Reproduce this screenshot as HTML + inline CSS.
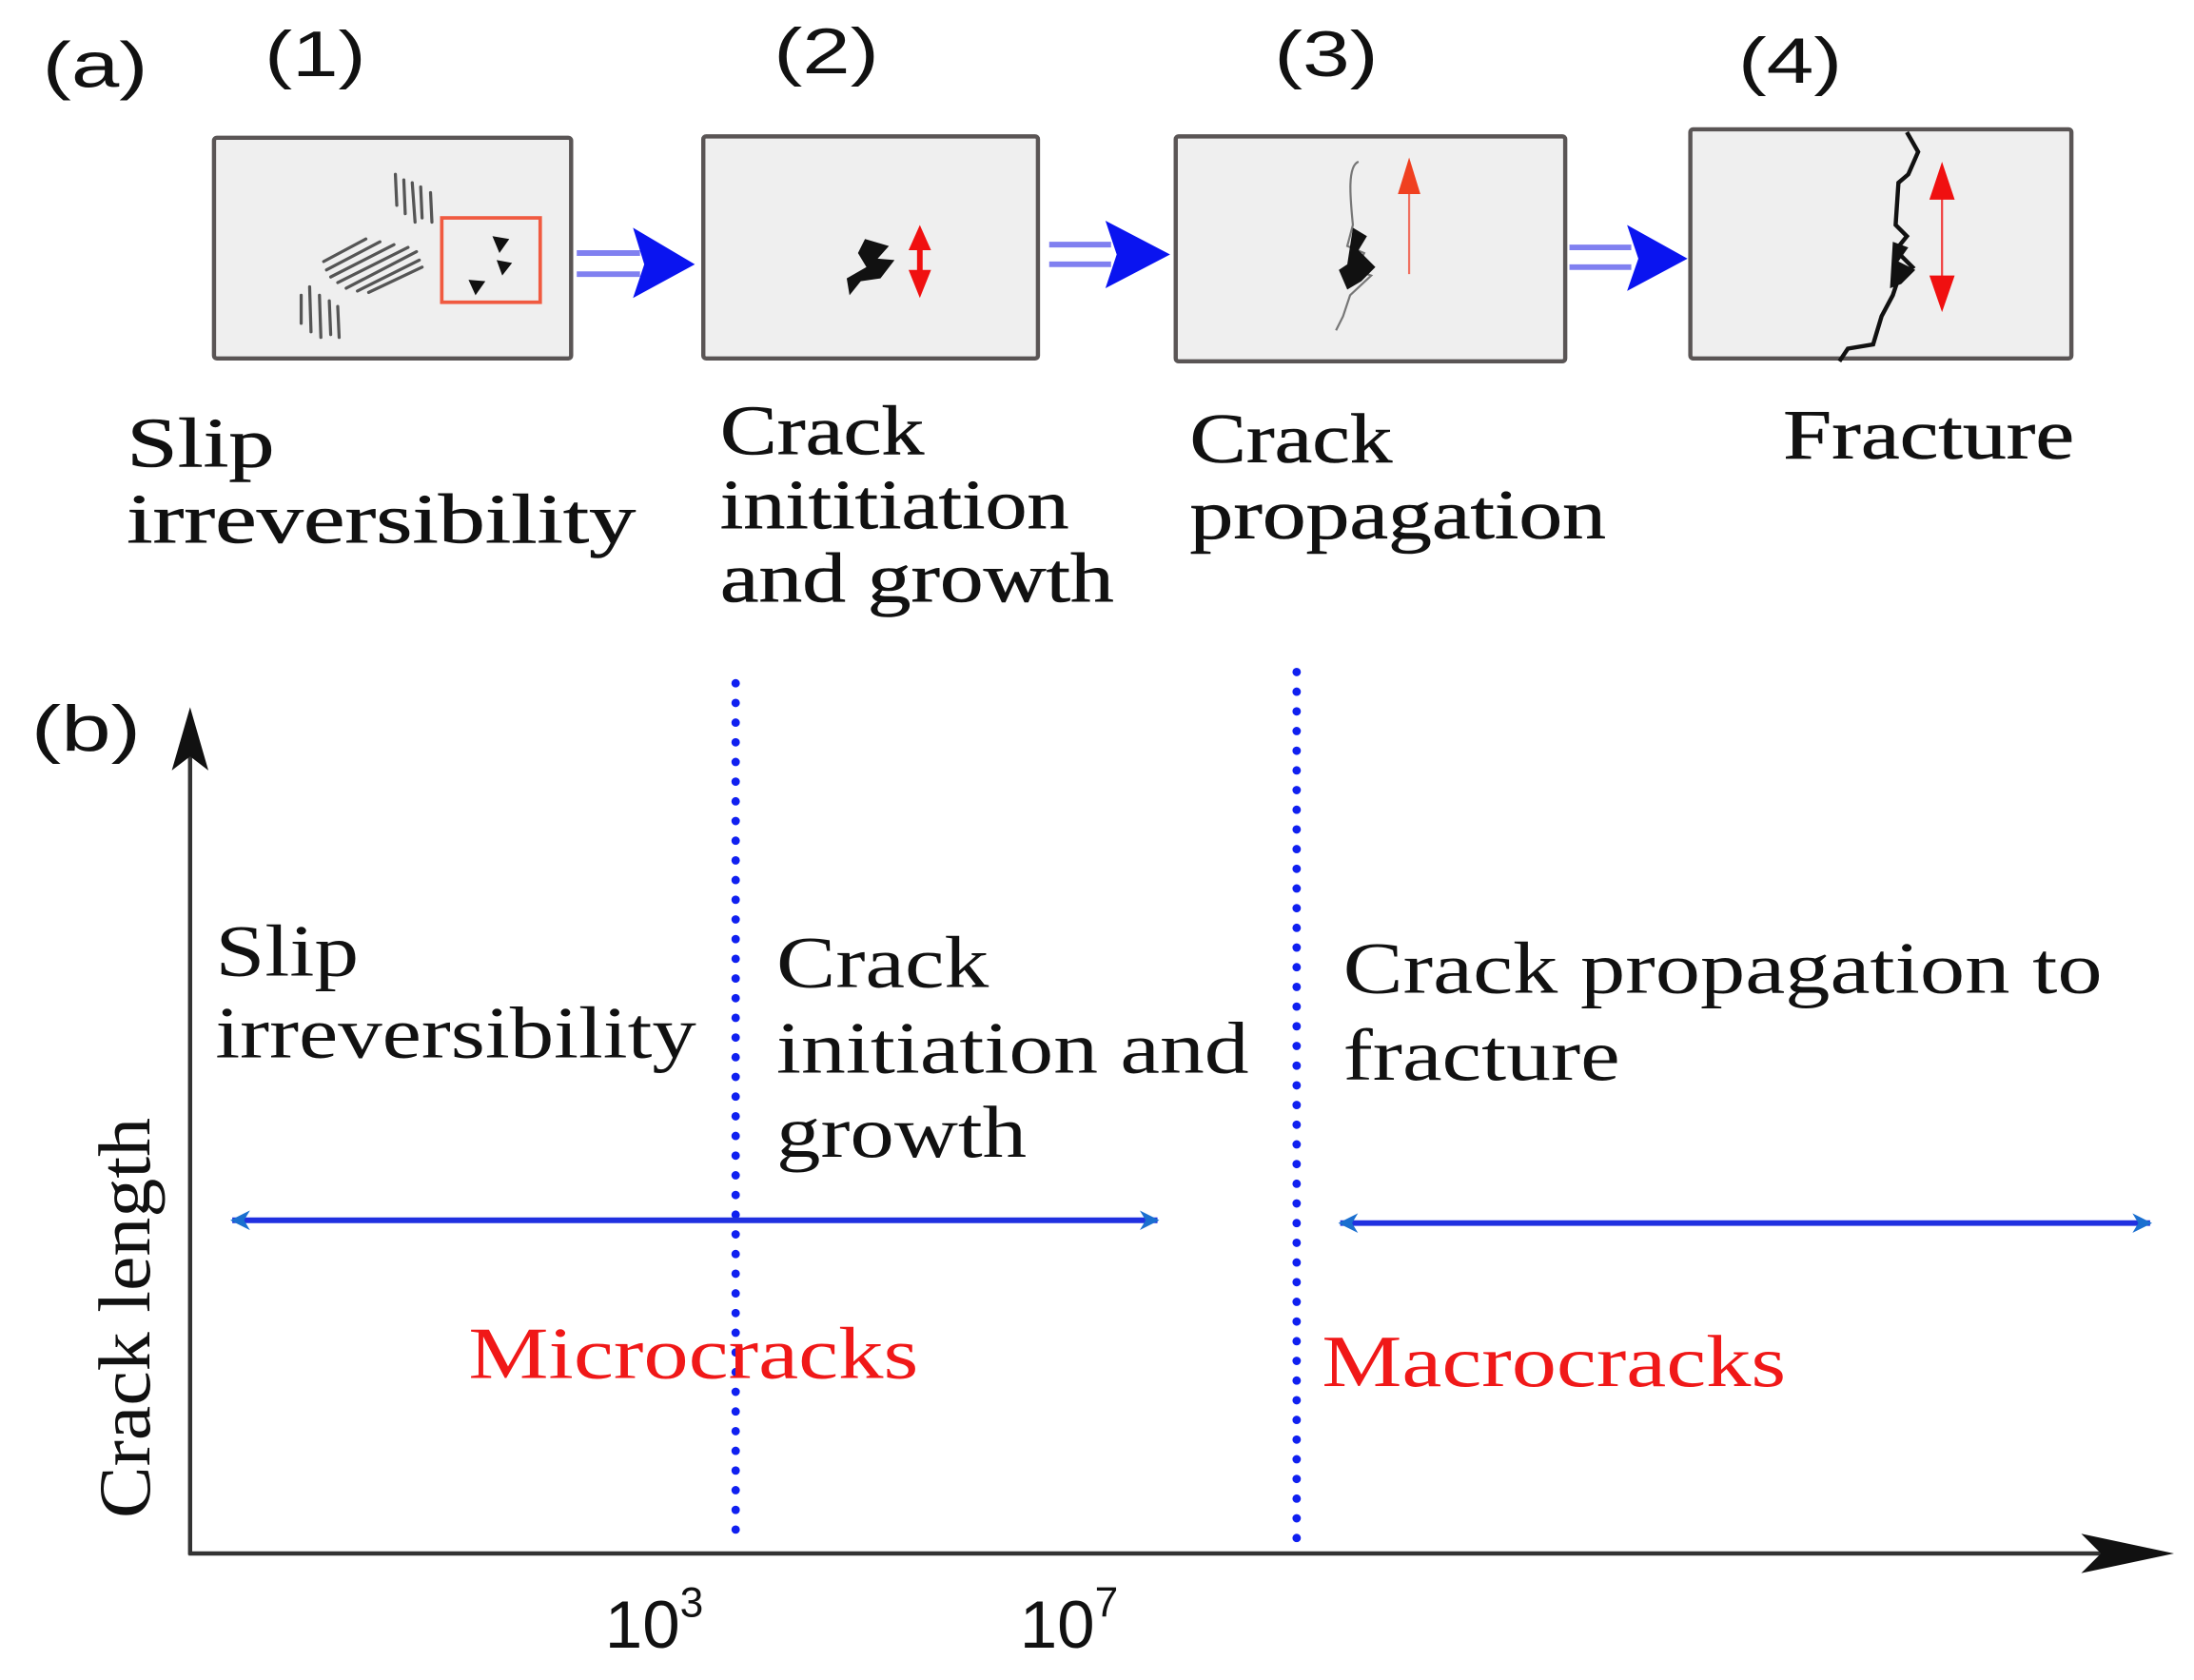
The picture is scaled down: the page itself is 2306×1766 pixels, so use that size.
<!DOCTYPE html>
<html><head><meta charset="utf-8"><style>html,body{margin:0;padding:0;background:#fff}svg{display:block}
.sans{font-family:"Liberation Sans",Arial,sans-serif}
.serif{font-family:"Liberation Serif","Times New Roman",serif}
</style></head>
<body>
<svg width="2306" height="1766" viewBox="0 0 1560 1195" xmlns="http://www.w3.org/2000/svg">
<defs>
<marker id="bh" viewBox="0 0 10 10" refX="9" refY="5" markerWidth="3.5" markerHeight="5" orient="auto-start-reverse"><path d="M0,0 L10,5 L0,10 L3,5 Z" fill="#1a6fd0"/></marker>
</defs>
<g class="sans" font-size="46" fill="#111">
<text x="30" y="62" textLength="75" lengthAdjust="spacingAndGlyphs">(a)</text>
<text x="188" y="54" textLength="72" lengthAdjust="spacingAndGlyphs">(1)</text>
<text x="550" y="52" textLength="75" lengthAdjust="spacingAndGlyphs">(2)</text>
<text x="906" y="54" textLength="74" lengthAdjust="spacingAndGlyphs">(3)</text>
<text x="1236" y="59" textLength="74" lengthAdjust="spacingAndGlyphs">(4)</text>
<text x="22" y="534" textLength="78" lengthAdjust="spacingAndGlyphs">(b)</text>
</g>
<g fill="#efefef" stroke="#5a5555" stroke-width="3">
<rect x="152" y="98" width="254" height="157" rx="2"/>
<rect x="500" y="97" width="238" height="158" rx="2"/>
<rect x="836" y="97" width="277" height="160" rx="2"/>
<rect x="1202" y="92" width="271" height="163" rx="2"/>
</g>
<g stroke="#555" stroke-width="2.2" stroke-linecap="round">
<line x1="281" y1="124" x2="282" y2="146"/><line x1="287" y1="128" x2="288" y2="152"/><line x1="293" y1="130" x2="295" y2="158"/><line x1="299" y1="133" x2="300" y2="155"/><line x1="306" y1="137" x2="307" y2="158"/>
<line x1="214" y1="210" x2="214" y2="230"/><line x1="220" y1="204" x2="221" y2="236"/><line x1="227" y1="210" x2="228" y2="240"/><line x1="234" y1="214" x2="235" y2="238"/><line x1="240" y1="218" x2="241" y2="240"/>
<line x1="230" y1="186" x2="260" y2="170"/><line x1="232" y1="192" x2="270" y2="172"/><line x1="235" y1="197" x2="280" y2="174"/><line x1="240" y1="201" x2="290" y2="176"/><line x1="246" y1="205" x2="296" y2="179"/><line x1="254" y1="207" x2="298" y2="185"/><line x1="262" y1="208" x2="300" y2="190"/>
</g>
<rect x="314" y="155" width="70" height="60" fill="none" stroke="#f05a40" stroke-width="2.5"/>
<g fill="#111"><path d="M350,168 L362,170 L355,180Z"/><path d="M353,185 L364,187 L357,196Z"/><path d="M333,199 L345,200 L338,210Z"/></g>
<g stroke="#8080f0" stroke-width="4">
<line x1="410" y1="180" x2="455" y2="180"/><line x1="410" y1="195" x2="455" y2="195"/>
<line x1="746" y1="174" x2="790" y2="174"/><line x1="746" y1="188" x2="790" y2="188"/>
<line x1="1116" y1="176" x2="1160" y2="176"/><line x1="1116" y1="190" x2="1160" y2="190"/>
</g>
<g fill="#0a14f0">
<path d="M450,162 L494,188 L450,212 L458,188Z"/>
<path d="M786,157 L832,181 L786,205 L794,181Z"/>
<path d="M1157,160 L1200,184 L1157,207 L1165,184Z"/>
</g>
<path d="M615,170 L632,175 L624,184 L636,185 L626,198 L612,200 L604,210 L602,198 L616,190 L610,180Z" fill="#111"/>
<g fill="#f01010"><path d="M654,160 L646,178 L662,178Z"/><path d="M654,212 L646,192 L662,192Z"/><rect x="652" y="176" width="4" height="18"/></g>
<path d="M966,115 C958,118 960,140 962,160 L958,175 L970,180 L964,192 L975,196 L960,210 L955,225 L950,235" fill="none" stroke="#777" stroke-width="1.5"/>
<path d="M962,162 L972,168 L966,178 L978,190 L968,200 L958,206 L952,192 L958,188Z" fill="#111"/>
<line x1="1002" y1="195" x2="1002" y2="128" stroke="#f07060" stroke-width="1.5"/>
<path d="M1002,112 L994,138 L1010,138Z" fill="#f04020"/>
<path d="M1356,94 L1364,108 L1357,124 L1350,130 L1348,160 L1356,168 L1348,178 L1360,190 L1350,198 L1346,210 L1338,225 L1332,245 L1314,248 L1308,257" fill="none" stroke="#111" stroke-width="3"/>
<path d="M1346,172 L1357,176 L1350,186 L1362,192 L1352,202 L1344,205Z" fill="#111"/>
<line x1="1381" y1="135" x2="1381" y2="210" stroke="#f04040" stroke-width="1.5"/>
<path d="M1381,115 L1372,142 L1390,142Z M1381,222 L1372,196 L1390,196Z" fill="#f01010"/>
<g class="serif" font-size="50" fill="#111" stroke="#111" stroke-width="0.4">
<text x="90" y="332" textLength="105" lengthAdjust="spacingAndGlyphs">Slip</text>
<text x="90" y="386" textLength="362" lengthAdjust="spacingAndGlyphs">irreversibility</text>
<text x="512" y="323" textLength="145" lengthAdjust="spacingAndGlyphs">Crack</text>
<text x="512" y="376" textLength="248" lengthAdjust="spacingAndGlyphs">inititiation</text>
<text x="512" y="428" textLength="280" lengthAdjust="spacingAndGlyphs">and growth</text>
<text x="846" y="329" textLength="144" lengthAdjust="spacingAndGlyphs">Crack</text>
<text x="846" y="383" textLength="296" lengthAdjust="spacingAndGlyphs">propagation</text>
<text x="1268" y="326" textLength="207" lengthAdjust="spacingAndGlyphs">Fracture</text>
</g>
<line x1="135" y1="530" x2="135" y2="1106" stroke="#333" stroke-width="3"/>
<path d="M135,503 L122,548 L135,538 L148,548Z" fill="#111"/>
<line x1="134" y1="1105" x2="1500" y2="1105" stroke="#333" stroke-width="3"/>
<path d="M1546,1105 L1480,1091 L1494,1105 L1480,1119Z" fill="#111"/>
<g stroke="#1020f0" stroke-width="6" stroke-dasharray="0 14" stroke-linecap="round">
<line x1="523" y1="486" x2="523" y2="1102"/>
<line x1="922" y1="478" x2="922" y2="1098"/>
</g>
<g stroke="#2030e0" stroke-width="4" marker-start="url(#bh)" marker-end="url(#bh)">
<line x1="165" y1="868" x2="823" y2="868"/>
<line x1="953" y1="870" x2="1529" y2="870"/>
</g>
<g class="serif" font-size="52" fill="#111">
<text x="153" y="694" textLength="102" lengthAdjust="spacingAndGlyphs">Slip</text>
<text x="153" y="752" textLength="342" lengthAdjust="spacingAndGlyphs">irreversibility</text>
<text x="552" y="702" textLength="151" lengthAdjust="spacingAndGlyphs">Crack</text>
<text x="552" y="763" textLength="336" lengthAdjust="spacingAndGlyphs">initiation and</text>
<text x="552" y="823" textLength="178" lengthAdjust="spacingAndGlyphs">growth</text>
<text x="955" y="706" textLength="540" lengthAdjust="spacingAndGlyphs">Crack propagation to</text>
<text x="955" y="768" textLength="197" lengthAdjust="spacingAndGlyphs">fracture</text>
<text transform="translate(106,1080) rotate(-90)" textLength="285" lengthAdjust="spacingAndGlyphs" font-size="52">Crack length</text>
</g>
<g class="serif" font-size="52" fill="#f01818">
<text x="333" y="980" textLength="320" lengthAdjust="spacingAndGlyphs">Microcracks</text>
<text x="940" y="986" textLength="330" lengthAdjust="spacingAndGlyphs">Macrocracks</text>
</g>
<g class="sans" font-size="48" fill="#111">
<text x="430" y="1172">10<tspan font-size="30" dy="-22">3</tspan></text>
<text x="725" y="1172">10<tspan font-size="30" dy="-22">7</tspan></text>
</g>
</svg>
</body></html>
